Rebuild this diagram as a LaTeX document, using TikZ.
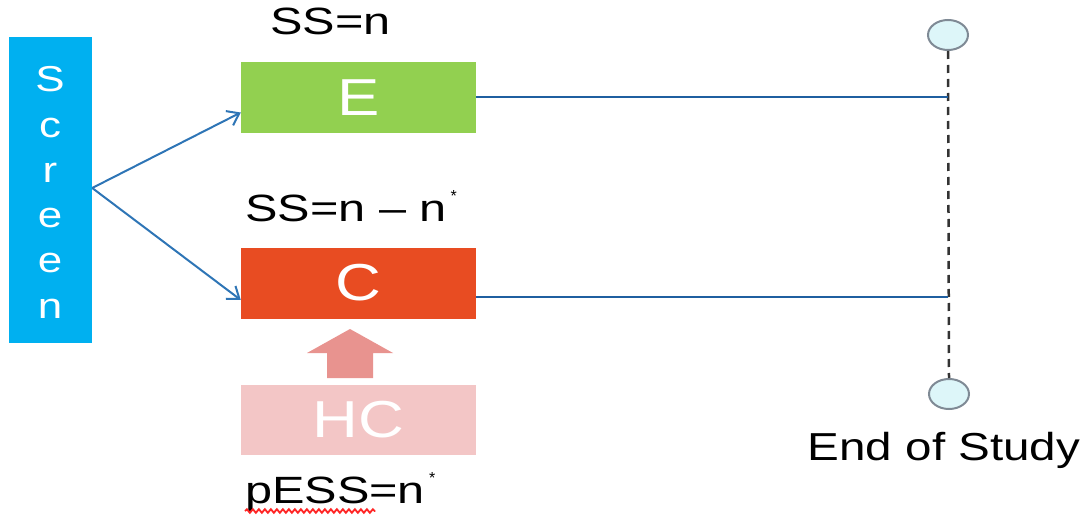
\documentclass[tikz,border=0pt]{standalone}
\usepackage{fontspec}
\setmainfont{Liberation Sans}
\usetikzlibrary{arrows.meta,calc,decorations.pathmorphing,shapes.geometric}
\definecolor{screenblue}{HTML}{00B0F0}
\definecolor{expgreen}{HTML}{92D050}
\definecolor{ctrlred}{HTML}{E84C22}
\definecolor{histpink}{HTML}{F3C6C6}
\definecolor{uparrow}{HTML}{E8938F}
\definecolor{linkblue}{HTML}{2E75B6}
\definecolor{armblue}{HTML}{1F5FA0}
\definecolor{markfill}{HTML}{DDF6F9}
\definecolor{markedge}{HTML}{7F8A95}
\newcommand{\wide}[1]{\scalebox{1.22}[1]{#1}}
\newcommand{\wider}[1]{\scalebox{1.28}[1]{#1}}
\newcommand{\nstar}{\raisebox{20pt}{\fontsize{16}{16}\selectfont\kern4pt*}}
\tikzset{
  x=1pt, y=-1pt,
  armbox/.style={draw=none, minimum width=235pt, minimum height=71pt, inner sep=0pt,
    text=white, font=\fontsize{52}{60}\selectfont},
  label/.style={inner sep=0pt, anchor=base west, font=\fontsize{38}{46}\selectfont},
  scrletter/.style={inner sep=0pt, anchor=base, text=white, font=\fontsize{36}{44}\selectfont},
  link/.style={draw=linkblue, line width=2pt, -{Straight Barb[length=11pt,width=16pt,line width=2pt]}},
  armline/.style={draw=armblue, line width=2pt},
  endmark/.style={ellipse, draw=markedge, line width=2pt, fill=markfill,
    minimum width=40pt, minimum height=30pt, inner sep=0pt},
}
\begin{document}
\begin{tikzpicture}
\useasboundingbox (0,0) rectangle (1088,516);

% screening column, one letter per line
\node[fill=screenblue, minimum width=83pt, minimum height=306pt, inner sep=0pt] (scr) at (50.5,190) {};
\foreach \ch [count=\i] in {S,c,r,e,e,n}
  \node[scrletter] (scr-\i) at (50,{92+45.2*(\i-1)}) {\wide{\ch}};

% arms
\node[armbox, fill=expgreen] (E) at (358.5,97.5) {\wide{E}};
\node[armbox, fill=ctrlred] (C) at (358.5,283) {\wide{C}};
\node[armbox, fill=histpink, minimum height=70pt] (HC) at (358.5,420) {\wide{HC}};

% sample-size labels
\node[label] (ssE) at (270,35) {\wider{SS=n}};
\node[label] (ssC) at (245,222) {\wider{SS=n -- n}\nstar};
\node[label] (pess) at (245,503) {\wider{pESS=n}\nstar};
\draw[red!85!white, line width=1.8pt, decorate,
      decoration={snake, segment length=6pt, amplitude=1.8pt}]
  ([yshift=-8pt]pess.base west) -- ([xshift=-60pt,yshift=-8pt]pess.base east);

% borrowing arrow from historical control into control arm
\fill[uparrow] (327,378) -- (327,353) -- (307,353) -- (350,329) -- (393,353)
  -- (373,353) -- (373,378) -- cycle;

% randomisation arrows
\coordinate (split) at ([yshift=2pt]scr.east);
\draw[link] (split) -- ([yshift=-15pt]E.west);
\draw[link] (split) -- ([yshift=-17pt]C.west);

% end of study marker
\node[endmark] (top) at (948,35) {};
\node[endmark] (bot) at (949,394) {};
\draw[black!80, line width=2.5pt, dash pattern=on 8pt off 6pt] (top.south) -- (bot.north);
\coordinate (endE) at (948,97.5);
\coordinate (endC) at (948,297);
\draw[armline] (E.east) -- (endE);
\draw[armline] (C.east |- endC) -- (endC);
\node[inner sep=0pt, anchor=base, font=\fontsize{39}{46}\selectfont] (eos) at (944,460) {\wide{End of Study}};
\end{tikzpicture}
\end{document}
